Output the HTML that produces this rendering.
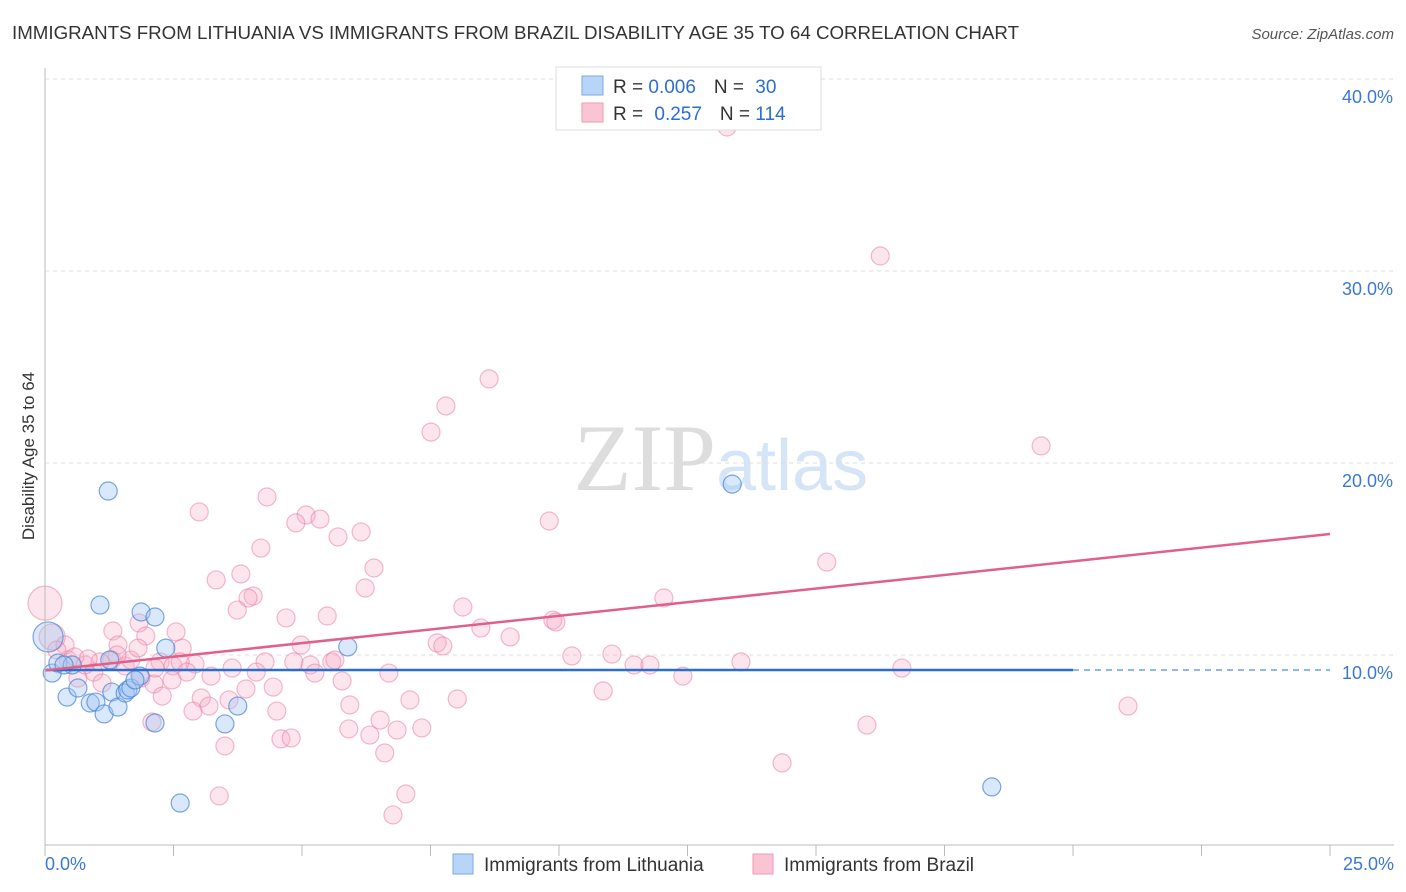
<!DOCTYPE html>
<html><head><meta charset="utf-8"><style>
body{margin:0;background:#fff;font-family:"Liberation Sans",sans-serif;}
#wrap{position:relative;width:1406px;height:892px;overflow:hidden;}
</style></head><body>
<div id="wrap">
<svg id="svg" width="1406" height="892" xmlns="http://www.w3.org/2000/svg">
<text x="12" y="39" font-size="18" fill="#333" textLength="1007" lengthAdjust="spacingAndGlyphs">IMMIGRANTS FROM LITHUANIA VS IMMIGRANTS FROM BRAZIL DISABILITY AGE 35 TO 64 CORRELATION CHART</text>
<text x="1394" y="39" font-size="15" fill="#555" font-style="italic" text-anchor="end">Source: ZipAtlas.com</text>
<text x="34" y="456" font-size="17" fill="#333" text-anchor="middle" transform="rotate(-90 34 456)">Disability Age 35 to 64</text>
<text x="716" y="490" font-size="95" fill="#ddd" text-anchor="end" font-family="Liberation Serif,serif">ZIP</text>
<text x="716" y="490" font-size="72" fill="#d6e5f5">atlas</text>
<g id="grid"></g><g id="pts"></g><g id="lines"></g><g id="axes"></g>
<g>
<rect x="556" y="67" width="265" height="63" fill="#fff" stroke="#ddd"/>
<rect x="582" y="76" width="21" height="19" fill="#b8d4f7" stroke="#7aaae6"/>
<rect x="582" y="103" width="21" height="19" fill="#f9c5d5" stroke="#ee9ab5"/>
<text x="613" y="93" font-size="19" fill="#333">R = <tspan fill="#2a6fcf">0.006</tspan><tspan dx="18">N = </tspan><tspan fill="#2a6fcf" dx="6">30</tspan></text>
<text x="613" y="120" font-size="19" fill="#333">R = <tspan fill="#2a6fcf" dx="6">0.257</tspan><tspan dx="18">N = </tspan><tspan fill="#2a6fcf">114</tspan></text>
</g>
<g>
<rect x="453" y="854" width="20" height="20" fill="#b8d4f7" stroke="#7aaae6"/>
<text x="484" y="871" font-size="19" fill="#333">Immigrants from Lithuania</text>
<rect x="753" y="854" width="20" height="20" fill="#f9c5d5" stroke="#ee9ab5"/>
<text x="784" y="871" font-size="19" fill="#333">Immigrants from Brazil</text>
</g>
</svg></div>
<script>
const yTicks=[10,20,30,40];
const yTickLabels=["10.0%","20.0%","30.0%","40.0%"];
const xTickLabels=["0.0%","25.0%"];
const lithX=[.14,.25,.43,.53,.64,.88,.99,1.07,1.15,1.23,1.30,1.42,1.56,1.61,1.67,1.87,1.85,2.14,2.14,2.35,2.63,3.50,3.75,5.89,13.37,18.42,.06,.37,1.26,1.75];
const lithY=[9.06,9.58,7.81,9.48,8.28,7.5,7.55,12.6,6.93,18.54,8.07,7.29,8.02,8.18,8.28,12.24,8.9,11.98,6.46,10.36,2.29,6.41,7.34,10.42,18.9,3.13,10.94,9.48,9.74,8.7];
const brazX=[0,.14,13.27,16.25,8.64,7.8,7.51,19.38,4.32,3.0,5.08,4.88,5.35,9.81,6.15,5.7,4.2,15.21,6.4,3.81,3.33,6.23,4.05,3.95,12.04,3.74,8.13,4.69,5.49,9.88,9.94,1.83,8.48,1.32,2.55,1.96,9.05,1.42,2.67,4.98,7.63,7.74,.39,10.25,11.03,1.3,1.07,1.56,1.67,2.24,2.49,2.92,2.63,4.28,3.64,4.84,5.16,5.58,5.64,2.76,4.11,5.25,6.69,11.46,11.77,13.54,16.67,12.41,.95,.64,1.11,1.87,2.47,2.12,3.23,5.78,4.44,3.91,2.28,10.86,3.04,3.58,5.93,7.1,8.02,2.88,3.19,4.51,21.07,6.52,2.08,5.91,6.32,6.85,7.33,15.99,4.59,4.79,3.5,6.61,14.34,3.39,7.02,6.77,.45,.78,.23,.58,.84,1.81,2.14,1.4];
const brazY=[12.7,10.94,37.5,30.78,24.38,22.97,21.61,20.89,18.23,17.45,17.29,16.88,17.08,16.98,16.41,16.15,15.57,14.84,14.53,14.22,13.91,13.49,13.07,12.97,12.97,12.34,12.5,11.93,12.03,11.82,11.72,11.67,11.41,11.25,11.2,10.99,10.94,10.52,10.36,10.52,10.63,10.47,10.52,9.95,10.05,9.74,9.64,9.43,9.74,9.64,9.43,9.53,9.64,9.64,9.32,9.64,9.48,9.64,9.74,9.11,9.11,9.06,9.06,9.48,9.48,9.64,9.32,8.9,9.11,8.8,8.54,8.8,8.7,8.49,8.9,8.65,8.33,8.23,7.86,8.13,7.76,7.66,7.4,7.66,7.71,7.08,7.34,7.08,7.34,6.61,6.51,6.15,5.83,6.09,6.2,6.35,5.63,5.68,5.26,4.9,4.38,2.66,2.76,1.67,9.74,9.48,10.26,9.9,9.79,10.36,9.32,10.0];
const lithTrend=[9.22,9.22];
const brazTrend=[9.2,16.3];
const NS="http://www.w3.org/2000/svg";
const X=v=>45+v*51.4, Y=v=>847-v*19.2;
function mk(t,a,p){const e=document.createElementNS(NS,t);for(const k in a)e.setAttribute(k,a[k]);p.appendChild(e);return e;}
const grid=document.getElementById('grid'),pts=document.getElementById('pts'),lines=document.getElementById('lines'),axes=document.getElementById('axes');
yTicks.forEach((t,i)=>{
 const l=mk('line',{x1:45,x2:1394,y1:Y(t),y2:Y(t),stroke:'#ddd','stroke-dasharray':'4 4'},grid);
 
 
 const tx=mk('text',{x:1393,y:Y(t)+24,'font-size':18,fill:'#3a78d4','text-anchor':'end'},axes);
 tx.textContent=yTickLabels[i];
 
 
});
for(let i=0;i<=10;i++){
 const l=mk('line',{x1:X(i*2.5),x2:X(i*2.5),y1:845,y2:856,stroke:'#bbb'},axes);
 
 
}
let a=mk('line',{x1:45,x2:45,y1:68,y2:845,stroke:'#bbb'},axes);


a=mk('line',{x1:45,x2:1394,y1:845,y2:845,stroke:'#bbb'},axes);


[[X(0),'start',0],[1394,'end',1]].forEach(d=>{
 const t=mk('text',{x:d[0],y:870,'font-size':18,fill:'#3a78d4','text-anchor':d[1]},axes);
 t.textContent=xTickLabels[d[2]];
 
 
});
brazX.forEach((x,i)=>{
 const r=(i==0)?17:(i==1?13:9);
 const c=mk('circle',{cx:X(x),cy:Y(brazY[i]),r:r,fill:'rgba(247,170,195,0.3)',stroke:'rgba(232,120,155,0.5)','stroke-width':1.2},pts);
 
 
});
lithX.forEach((x,i)=>{
 const r=(i==26)?15:9;
 const c=mk('circle',{cx:X(x),cy:Y(lithY[i]),r:r,fill:'rgba(160,198,242,0.4)',stroke:'rgba(70,130,215,0.7)','stroke-width':1.2},pts);
 
 
});
const cut=20.0;
let ln=mk('line',{x1:X(0),y1:Y(lithTrend[0]),x2:X(cut),y2:Y(lithTrend[0]+(lithTrend[1]-lithTrend[0])*cut/25),stroke:'#2a6fcf','stroke-width':2.5},lines);


ln=mk('line',{x1:X(cut),y1:Y(lithTrend[0]+(lithTrend[1]-lithTrend[0])*cut/25),x2:X(25),y2:Y(lithTrend[1]),stroke:'#6a9fe0','stroke-width':1.5,'stroke-dasharray':'6 5'},lines);


ln=mk('line',{x1:X(0),y1:Y(brazTrend[0]),x2:X(25),y2:Y(brazTrend[1]),stroke:'#e0608a','stroke-width':2.5},lines);


</script>
</body></html>
